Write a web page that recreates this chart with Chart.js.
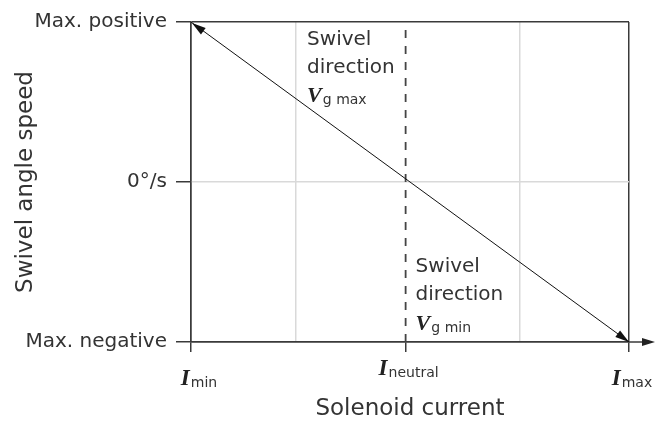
<!DOCTYPE html>
<html>
<head>
<meta charset="utf-8">
<script src="https://cdn.jsdelivr.net/npm/chart.js@4/dist/chart.umd.min.js"></script>
<style>
  html, body { margin: 0; padding: 0; background: #fff; }
  #wrap { width: 666px; height: 421px; }
</style>
</head>
<body>
<div id="wrap"><canvas id="chart" width="666" height="421"></canvas></div>
<script>
// Data
const xGrid = [0, 0.24, 0.49, 0.75, 1];
const xLabelled = [0, 0.49, 1];
const xTickSubs = ['min', 'neutral', 'max'];
const yTicks = [-1, 0, 1];
const yTickLabels = ['Max. negative', '0°/s', 'Max. positive'];
const speedX = [0, 1];
const speedY = [1, -1];
const neutralX = 0.49;
const noteTop = ['Swivel', 'direction', 'g max'];
const noteBottom = ['Swivel', 'direction', 'g min'];

const DARK = '#3a3a3a';
const LIGHT = '#d9d9d9';
const SANS = '"DejaVu Sans"';

function arrowHead(ctx, fromX, fromY, tipX, tipY, len, half, color) {
  const a = Math.atan2(tipY - fromY, tipX - fromX);
  const bx = tipX - len * Math.cos(a), by = tipY - len * Math.sin(a);
  ctx.beginPath();
  ctx.moveTo(tipX, tipY);
  ctx.lineTo(bx + half * Math.sin(a), by - half * Math.cos(a));
  ctx.lineTo(bx - half * Math.sin(a), by + half * Math.cos(a));
  ctx.closePath();
  ctx.fillStyle = color;
  ctx.fill();
}

// letter in serif bold italic + sans subscript
function mathText(ctx, main, sub, x, baseline, size, subSize, centered) {
  ctx.font = 'italic bold ' + size + 'px "Liberation Serif"';
  const w1 = ctx.measureText(main).width;
  ctx.font = subSize + 'px ' + SANS;
  const w2 = ctx.measureText(sub).width;
  const x0 = centered ? x - (w1 + w2 + 1) / 2 : x;
  ctx.textAlign = 'left';
  ctx.textBaseline = 'alphabetic';
  ctx.fillStyle = '#222';
  ctx.font = 'italic bold ' + size + 'px "Liberation Serif"';
  ctx.fillText(main, x0, baseline);
  ctx.font = subSize + 'px ' + SANS;
  ctx.fillStyle = '#333';
  ctx.fillText(sub, x0 + w1 + 1, baseline + 2);
}

const annotate = {
  id: 'annotate',
  afterDatasetsDraw(chart) {
    const { ctx, scales: { x, y } } = chart;
    ctx.save();

    // arrowheads of the speed line
    const pts = chart.getDatasetMeta(0).data;
    arrowHead(ctx, pts[1].x, pts[1].y, pts[0].x + 1, pts[0].y + 1, 14, 4, '#111');
    arrowHead(ctx, pts[0].x, pts[0].y, pts[1].x, pts[1].y, 14, 4, '#111');

    // x axis arrow
    const ay = y.getPixelForValue(-1);
    ctx.strokeStyle = DARK;
    ctx.lineWidth = 1.5;
    ctx.beginPath();
    ctx.moveTo(x.right, ay);
    ctx.lineTo(x.right + 16, ay);
    ctx.stroke();
    arrowHead(ctx, x.right, ay, x.right + 26, ay, 13, 4, '#222');

    // x tick labels I_min / I_neutral / I_max
    xLabelled.forEach((v, i) => {
      const px = x.getPixelForValue(v);
      const base = xTickSubs[i] === 'neutral' ? 375 : 385;
      const shift = i === 0 ? 8 : 3;
      mathText(ctx, 'I', xTickSubs[i], px + shift, base, 23, 14, true);
    });

    // notes
    ctx.fillStyle = '#333';
    ctx.font = '20px ' + SANS;
    ctx.textAlign = 'left';
    ctx.textBaseline = 'alphabetic';
    let nx = x.getPixelForValue(0.24) + 11;
    let ny = y.getPixelForValue(1) + 23;
    ctx.fillText(noteTop[0], nx, ny);
    ctx.fillText(noteTop[1], nx, ny + 28);
    mathText(ctx, 'V', noteTop[2], nx, ny + 57, 22, 14, false);

    nx = x.getPixelForValue(neutralX) + 10;
    ny = y.getPixelForValue(-1) - 12;
    ctx.fillStyle = '#333';
    ctx.font = '20px ' + SANS;
    ctx.fillText(noteBottom[0], nx, ny - 58);
    ctx.fillText(noteBottom[1], nx, ny - 30);
    mathText(ctx, 'V', noteBottom[2], nx, ny, 22, 14, false);

    ctx.restore();
  }
};

new Chart(document.getElementById('chart'), {
  type: 'scatter',
  data: {
    datasets: [
      {
        data: speedX.map((v, i) => ({ x: v, y: speedY[i] })),
        showLine: true,
        borderColor: '#111',
        borderWidth: 1,
        pointRadius: 0
      },
      {
        data: [{ x: neutralX, y: -1 }, { x: neutralX, y: 1 }],
        showLine: true,
        borderColor: '#444',
        borderWidth: 1.8,
        borderDash: [8, 8],
        pointRadius: 0
      }
    ]
  },
  options: {
    responsive: false,
    animation: false,
    events: [],
    layout: { padding: { top: 22, right: 37, left: 0, bottom: 0 } },
    plugins: { legend: { display: false }, tooltip: { enabled: false } },
    scales: {
      x: {
        type: 'linear',
        min: 0,
        max: 1,
        afterBuildTicks: s => { s.ticks = xGrid.map(v => ({ value: v })); },
        afterFit: s => { s.height = 79; },
        ticks: { display: true, autoSkip: false, callback: () => '', padding: 0 },
        grid: {
          lineWidth: 1.5,
          tickLength: 10,
          color: c => (c.tick && (c.tick.value === 0 || c.tick.value === 1)) ? DARK
            : (c.tick && c.tick.value === neutralX ? 'rgba(0,0,0,0)' : LIGHT),
          tickColor: c => (c.tick && xLabelled.includes(c.tick.value)) ? DARK : 'rgba(0,0,0,0)'
        },
        border: { color: DARK, width: 1.5 },
        title: {
          display: true,
          text: 'Solenoid current',
          color: '#333',
          font: { family: SANS, size: 23, lineHeight: 1 },
          padding: { top: 0, bottom: 0 }
        }
      },
      y: {
        type: 'linear',
        min: -1,
        max: 1,
        afterBuildTicks: s => { s.ticks = yTicks.map(v => ({ value: v })); },
        afterFit: s => { s.width = 191; },
        ticks: {
          padding: 9,
          color: '#333',
          font: { family: SANS, size: 20 },
          callback: v => yTickLabels[yTicks.indexOf(v)]
        },
        grid: {
          lineWidth: 1.5,
          tickLength: 15,
          color: c => (c.tick && c.tick.value === 0) ? LIGHT : DARK,
          tickColor: DARK
        },
        border: { color: DARK, width: 1.5 },
        title: {
          display: true,
          text: 'Swivel angle speed',
          color: '#333',
          font: { family: SANS, size: 23, lineHeight: 1 },
          padding: { top: 15, bottom: 0 }
        }
      }
    }
  },
  plugins: [annotate]
});
</script>
</body>
</html>
